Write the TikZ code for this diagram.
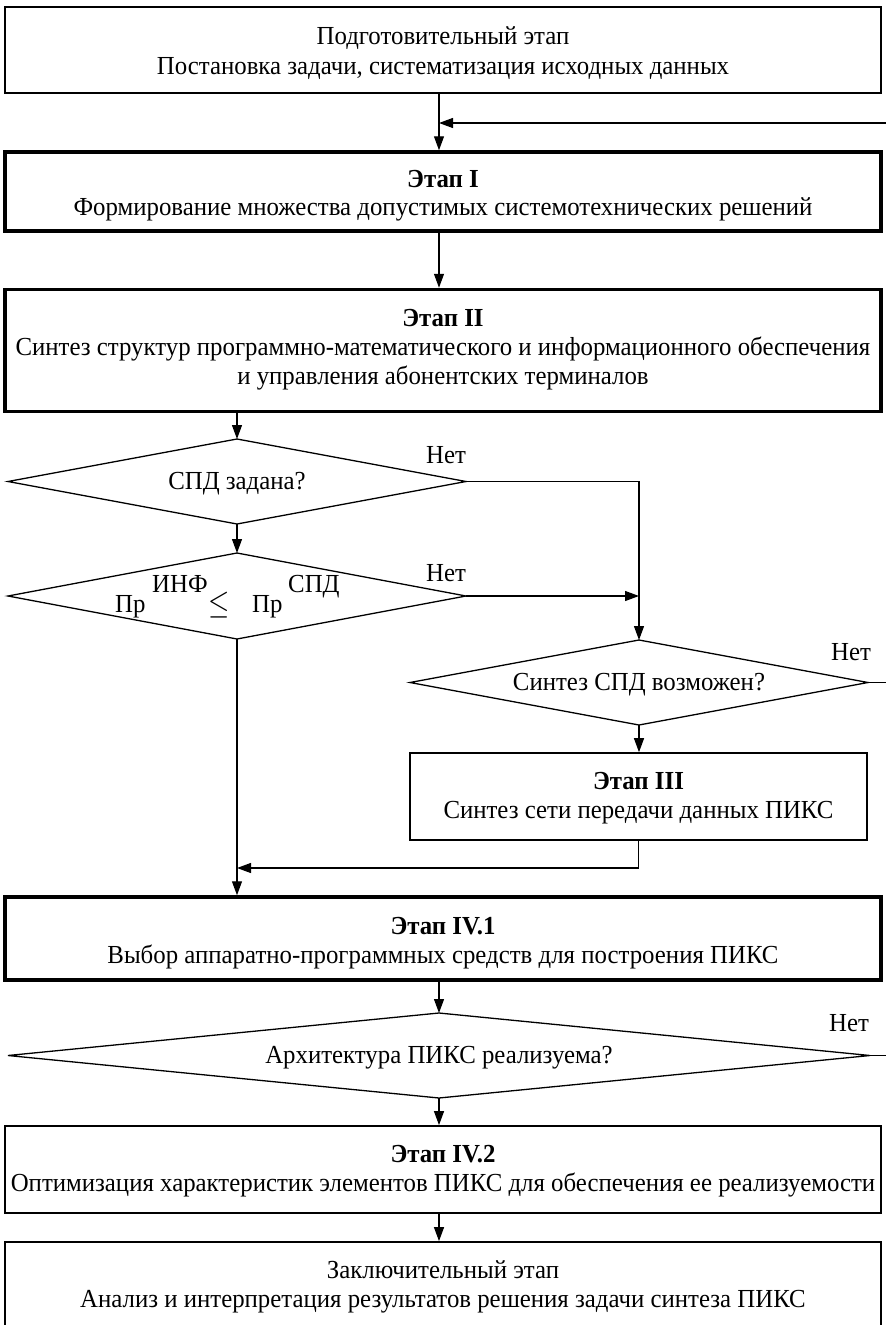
\documentclass[tikz,border=0pt]{standalone}
\usepackage{fontspec}
\setmainfont{Liberation Serif}[FakeStretch=0.955]
\usetikzlibrary{shapes.geometric,arrows.meta}

\begin{document}
\begin{tikzpicture}[x=1pt,y=-1pt,
  every node/.style={font=\fontsize{26}{29}\selectfont},
  stagebox/.style={draw, rectangle, line width=1.8pt, inner sep=0pt, minimum width=876pt},
  boldstage/.style={stagebox, line width=3.5pt},
  choice/.style={draw, diamond, line width=1.3pt, inner sep=0pt, outer sep=0pt},
  link/.style={line width=1.2pt},
  arr/.style={link, -{Triangle[length=14pt,width=10pt]}},
  txt/.style={anchor=base, inner sep=0pt},
  nolabel/.style={anchor=base west, inner sep=0pt}]

\fill[white] (0,0) rectangle (886,1325);
\useasboundingbox (0,0) rectangle (886,1325);

% main column
\coordinate (col) at (439,0);

% stages and decisions
\node[stagebox, minimum height=86pt] (prep) at (443,50) {};
\node[boldstage, minimum height=79pt] (s1) at (443,191.5) {};
\node[boldstage, minimum height=122pt] (s2) at (443,350.5) {};
\node[choice, minimum width=458pt, minimum height=85pt] (d1) at (237,481.5) {};
\node[choice, minimum width=458pt, minimum height=86pt] (d2) at (237,596) {};
\node[choice, minimum width=458pt, minimum height=85pt] (d3) at (639,682.5) {};
\node[stagebox, line width=1.6pt, minimum width=457pt, minimum height=87pt] (s3) at (638.5,796.5) {};
\node[boldstage, minimum height=83pt] (s41) at (443,938.5) {};
\node[choice, minimum width=862pt, minimum height=85pt] (d4) at (439,1055.5) {};
\node[stagebox, minimum height=87pt] (s42) at (443,1169.5) {};
\node[stagebox, minimum height=100pt] (fin) at (443,1292) {};

% texts
\node[txt] at (443,44) {Подготовительный этап};
\node[txt] at (443,74.5) {Постановка задачи, систематизация исходных данных};
\node[txt] at (443,187) {\textbf{Этап I}};
\node[txt] at (443,215.5) {Формирование множества допустимых системотехнических решений};
\node[txt] at (443,326) {\textbf{Этап II}};
\node[txt] at (443,355) {Синтез структур программно-математического и информационного обеспечения};
\node[txt] at (443,384) {и управления абонентских терминалов};
\node[txt] at (237,489.5) {СПД задана?};
\node[nolabel] at (115,612) {\rlap{Пр}\hspace{37pt}\rlap{\raisebox{20pt}{ИНФ}}\hspace{56pt}\rlap{\raisebox{-1pt}{\scalebox{1.1}[1.35]{$\leq$}}}\hspace{44pt}\rlap{Пр}\hspace{36pt}\raisebox{20pt}{СПД}};
\node[txt] at (639,690.5) {Синтез СПД возможен?};
\node[txt] at (638.5,789) {\textbf{Этап III}};
\node[txt] at (638.5,818) {Синтез сети передачи данных ПИКС};
\node[txt] at (443,934) {\textbf{Этап IV.1}};
\node[txt] at (443,963) {Выбор аппаратно-программных средств для построения ПИКС};
\node[txt] at (439,1063.5) {Архитектура ПИКС реализуема?};
\node[txt] at (443,1162) {\textbf{Этап IV.2}};
\node[txt] at (443,1191.5) {Оптимизация характеристик элементов ПИКС для обеспечения ее реализуемости};
\node[txt] at (443,1278) {Заключительный этап};
\node[txt] at (443,1307.5) {Анализ и интерпретация результатов решения задачи синтеза ПИКС};

% "no" labels
\node[nolabel] at (426,463) {Нет};
\node[nolabel] at (426,581) {Нет};
\node[nolabel] at (831,660) {Нет};
\node[nolabel] at (829,1031) {Нет};

% free ends at the right margin
\coordinate (back) at (886,123);
\coordinate (out3) at (886,682.5);
\coordinate (out4) at (886,1055.5);
\coordinate (join) at (237,868);

% connectors
\draw[arr] (prep.south -| col) -- (s1.north -| col);
\draw[arr] (back) -- (back -| col);
\draw[arr] (s1.south -| col) -- (s2.north -| col);
\draw[arr] (s2.south -| d1.north) -- (d1.north);
\draw[arr] (d1.south) -- (d2.north);
\draw[arr] (d1.east) -| (d3.north);
\draw[arr] (d2.east) -- (d2.east -| d3.north);
\draw[link] (d3.east) -- (out3);
\draw[arr] (d3.south) -- (s3.north -| d3.south);
\draw[arr] (s3.south) |- (join);
\draw[arr] (d2.south) -- (s41.north -| d2.south);
\draw[arr] (s41.south -| col) -- (d4.north);
\draw[link] (d4.east) -- (out4);
\draw[arr] (d4.south) -- (s42.north -| d4.south);
\draw[arr] (s42.south -| col) -- (fin.north -| col);
\end{tikzpicture}
\end{document}
